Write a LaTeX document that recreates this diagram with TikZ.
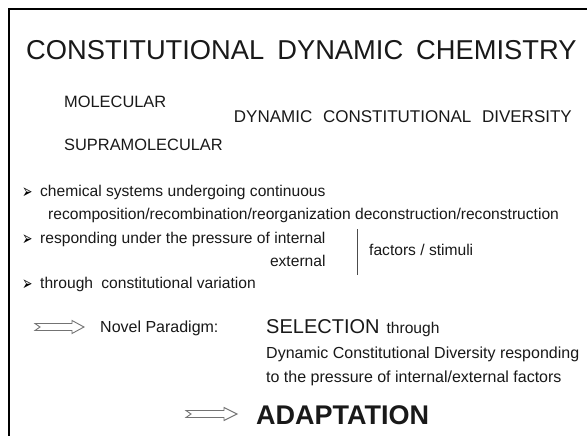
\documentclass[tikz,border=0pt]{standalone}
\usepackage{fontspec}
\usepackage{graphicx}
\setmainfont{Liberation Sans}
\newfontfamily\symfont{DejaVu Sans}
\newcommand{\arrowbullet}{\scalebox{0.62}[1]{➢}}
\begin{document}
\begin{tikzpicture}[x=1pt,y=-1pt,
  base/.style={anchor=base west, inner sep=0pt, text=black!90},
  titletext/.style={base, font=\fontsize{27.3}{30}\selectfont},
  captext/.style={base, font=\fontsize{16.4}{18}\selectfont},
  bodytext/.style={base, font=\fontsize{15.6}{18}\selectfont},
  paratext/.style={base, font=\fontsize{16}{18}\selectfont},
  boldtext/.style={base, font=\fontsize{27}{30}\selectfont\bfseries},
  bullet/.style={base, text=black, font=\fontsize{20}{22}\symfont},
  hollowarrow/.style={draw=black!55, line width=0.9pt, fill=white, line join=miter}
]
\useasboundingbox (0,0) rectangle (587,436);
\fill[white] (0,0) rectangle (587,436);
% frame
\draw[line width=2pt] (8.5,436) -- (8.5,9.5) -- (587,9.5);

% heading
\node[titletext] (title) at (26,60)
  {CONSTITUTIONAL\hspace{13pt}DYNAMIC\hspace{13pt}CHEMISTRY};

\node[captext] (mol) at (64,107) {MOLECULAR};
\node[captext] (supra) at (64,150) {SUPRAMOLECULAR};
\node[captext, font=\fontsize{17}{19}\selectfont, anchor=base east] (dcd) at (572,123)
  {DYNAMIC\hspace{6pt} CONSTITUTIONAL\hspace{6pt} DIVERSITY};

% bullet list
\node[bullet] (b1) at (22,198) {\arrowbullet};
\node[bodytext] (l1) at (40,196) {chemical systems undergoing continuous};
\node[bodytext] (l2) at (48,219)
  {recomposition/recombination/reorganization deconstruction/reconstruction};
\node[bullet] (b2) at (22,245) {\arrowbullet};
\node[bodytext] (l3) at (40,243) {responding under the pressure of internal};
\node[bodytext, anchor=base east] (l4) at ([yshift=-23pt]l3.base east) {external};
\coordinate (vtop) at (357,229);
\coordinate (vbot) at (357,275);
\draw[black!70, line width=0.8pt] (vtop) -- (vbot);
\node[bodytext] (fs) at (369,255.5) {factors / stimuli};
\node[bullet] (b3) at (22,290) {\arrowbullet};
\node[bodytext] (l5) at (40,288) {through\hspace{4pt} constitutional variation};

% conclusion
\draw[hollowarrow] (35,323.5) -- (72,323.5) -- (72,320.5) -- (84,327) -- (72,333.5)
  -- (72,330.5) -- (35,330.5) -- (40,327) -- cycle;
\node[paratext] (np) at (100,332.5) {Novel Paradigm:};
\node[base] (sel) at (266,333)
  {\fontsize{20}{22}\selectfont SELECTION\hspace{7pt}\fontsize{15.6}{18}\selectfont through};
\node[paratext] (d1) at (266,358) {Dynamic Constitutional Diversity responding};
\node[paratext] (d2) at (266,382) {to the pressure of internal/external factors};

\draw[hollowarrow] (186,410.5) -- (224,410.5) -- (224,407.5) -- (237,414) -- (224,420.5)
  -- (224,417.5) -- (186,417.5) -- (191,414) -- cycle;
\node[boldtext] (adapt) at (256,424) {ADAPTATION};
\end{tikzpicture}
\end{document}
